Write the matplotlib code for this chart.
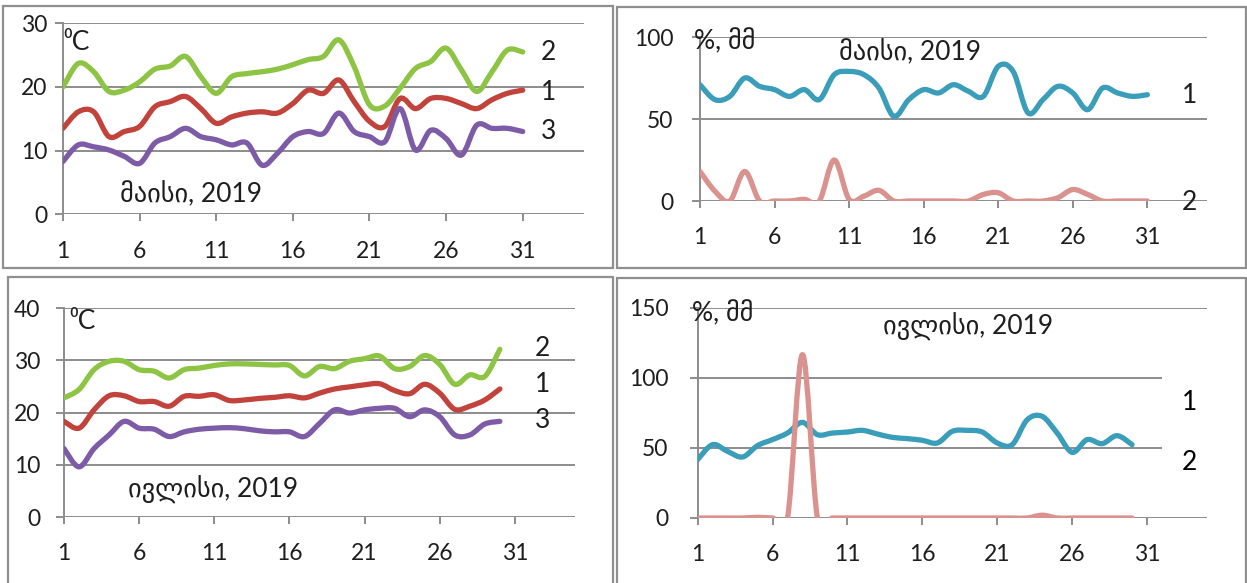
import numpy as np
import matplotlib
matplotlib.use("Agg")
import matplotlib.pyplot as plt
from matplotlib.path import Path
from matplotlib.patches import PathPatch, Rectangle

plt.rcParams["font.family"] = ["Lato", "DejaVu Sans"]

W, H = 1247, 583

# ---- data: May 2019 (air temperature, deg C) ----
may_days = list(range(1, 32))
may_mean = [13.5, 16.1, 16.1, 12.2, 13.0, 13.8, 16.9, 17.7, 18.5, 16.6, 14.3, 15.3, 15.9, 16.1, 15.9,
            17.4, 19.5, 19.0, 21.1, 17.7, 14.6, 13.8, 18.2, 16.6, 18.2, 18.2, 17.4, 16.6, 18.0, 19.0, 19.5]
may_max = [20.0, 23.7, 22.4, 19.3, 19.5, 20.8, 22.8, 23.3, 24.8, 21.6, 19.0, 21.6, 22.1, 22.4, 22.8,
           23.5, 24.3, 24.8, 27.4, 23.2, 17.2, 17.0, 19.8, 22.9, 24.0, 26.1, 22.7, 19.3, 22.4, 25.8, 25.5]
may_min = [8.3, 10.9, 10.6, 10.1, 9.1, 8.0, 11.2, 12.2, 13.5, 12.2, 11.7, 10.9, 11.2, 7.7, 9.6,
           12.2, 13.0, 12.7, 15.9, 13.0, 12.2, 11.4, 16.6, 10.1, 13.2, 11.9, 9.3, 14.0, 13.5, 13.5, 13.0]

# ---- May 2019 humidity (%) and precipitation (mm) ----
may_hum = [70.9, 61.8, 63.8, 75.0, 69.9, 67.9, 63.8, 67.9, 61.8, 77.0, 79.0, 77.0, 68.9, 51.6, 61.8,
           67.9, 65.9, 70.9, 66.9, 63.8, 82.1, 79.0, 53.7, 61.8, 69.9, 65.9, 55.7, 68.9, 65.9, 63.8, 64.8]
may_prec = [18, 6, 0, 18, 0, 0, 0, 1, 0, 25, 1, 3, 6.5, 0, 0,
            0, 0, 0, 0, 4, 5, 0, 0, 0, 2, 7, 4, 0, 0, 0, 0]

# ---- July 2019 (air temperature, deg C) ----
jul_days = list(range(1, 31))
jul_mean = [18.3, 17.0, 20.5, 23.2, 23.2, 22.1, 22.1, 21.2, 23.1, 23.1, 23.4, 22.3, 22.4, 22.7, 22.9,
            23.2, 22.8, 23.7, 24.5, 24.9, 25.3, 25.5, 24.2, 23.6, 25.4, 23.7, 20.6, 21.2, 22.4, 24.5]
jul_max = [22.8, 24.4, 28.2, 29.8, 29.8, 28.2, 27.9, 26.6, 28.2, 28.5, 29.0, 29.3, 29.3, 29.2, 29.1,
           29.0, 27.0, 28.8, 28.4, 29.8, 30.3, 30.8, 28.4, 28.8, 30.9, 29.2, 25.4, 27.2, 26.9, 32.1]
jul_min = [13.1, 9.6, 13.1, 15.7, 18.3, 17.0, 16.8, 15.4, 16.3, 16.8, 17.0, 17.1, 16.9, 16.5, 16.3,
           16.3, 15.4, 17.9, 20.5, 19.9, 20.5, 20.8, 20.8, 19.2, 20.5, 19.2, 15.7, 15.7, 17.8, 18.3]

# ---- July 2019 humidity (%) and precipitation (mm) ----
jul_hum = [41.7, 52.4, 47.6, 43.6, 51.7, 56.0, 60.7, 68.3, 59.5, 60.7, 61.4, 62.6, 60.0, 57.6, 56.7,
           55.5, 53.6, 61.9, 62.6, 61.4, 53.6, 52.4, 70.2, 72.6, 60.7, 46.9, 56.0, 53.1, 58.8, 52.4]
jul_prec = [0, 0, 0, 0, 0.5, 0, 0, 116.7, 0, 0, 0, 0, 0, 0, 0,
            0, 0, 0, 0, 0, 0, 0, 0, 2, 0, 0, 0, 0, 0, 0]

x_ticks = [1, 6, 11, 16, 21, 26, 31]

RED = "#C1433C"
GREEN = "#8DC444"
PURPLE = "#7D5BA6"
TEAL = "#3A9DB9"
PINK = "#D9928E"
GRID = "#8C8C8C"
INK = "#1E1E1E"

fig = plt.figure(figsize=(W / 100, H / 100), dpi=100)


def px_axes(left, right, top, bottom):
    return fig.add_axes([left / W, 1 - bottom / H, (right - left) / W, (bottom - top) / H])


def smooth_line(ax, xs, ys, color):
    # Excel-style smoothed line: Catmull-Rom turned into cubic Bezier segments
    pts = np.column_stack([xs, ys]).astype(float)
    n = len(pts)
    verts = [pts[0]]
    codes = [Path.MOVETO]
    for i in range(n - 1):
        p0 = pts[i - 1] if i > 0 else pts[i]
        p1 = pts[i]
        p2 = pts[i + 1]
        p3 = pts[i + 2] if i + 2 < n else pts[i + 1]
        verts += [p1 + (p2 - p0) / 6, p2 - (p3 - p1) / 6, p2]
        codes += [Path.CURVE4] * 3
    ax.add_patch(PathPatch(Path(verts, codes), fill=False, edgecolor=color, lw=3.8,
                           capstyle="round", joinstyle="round", zorder=3))


def style_axes(ax, ymax, ystep, ypad):
    ax.set_xlim(1, 35)
    ax.set_ylim(0, ymax)
    ax.set_xticks(x_ticks)
    ax.set_yticks(np.arange(0, ymax + 1, ystep))
    for s in ["top", "right", "bottom"]:
        ax.spines[s].set_visible(False)
    ax.spines["left"].set_color(GRID)
    ax.spines["left"].set_linewidth(1.4)
    ax.grid(axis="y", color=GRID, lw=1.4)
    ax.set_axisbelow(True)
    ax.tick_params(axis="y", length=6, width=1.4, color=GRID, pad=ypad, labelsize=16.5,
                   labelcolor=INK)
    ax.tick_params(axis="x", length=5, width=1.4, color=GRID, pad=14, labelsize=16.5,
                   labelcolor=INK)
    ax.patch.set_alpha(0)


def frame(left, top, right, bottom):
    fig.add_artist(Rectangle((left / W, 1 - bottom / H), (right - left) / W, (bottom - top) / H,
                             transform=fig.transFigure, fill=False, edgecolor="#8F8F8F",
                             lw=1.6, zorder=5))


def ftext(x, y, s, size=19, ha="left", color=INK):
    fig.text(x / W, 1 - y / H, s, fontsize=size, ha=ha, va="center", color=color, zorder=6)


# panel frames
frame(3, 6, 613, 268)
frame(617, 7, 1246, 268)
frame(8, 277, 613, 590)
frame(617, 278, 1246, 590)

# top-left: May temperature
ax1 = px_axes(63, 584, 23.3, 214.3)
style_axes(ax1, 30, 10, 5)
smooth_line(ax1, may_days, may_max, GREEN)
smooth_line(ax1, may_days, may_mean, RED)
smooth_line(ax1, may_days, may_min, PURPLE)
ftext(63, 42, "\u2070C")
ftext(120, 194, "მაისი, 2019")
ftext(541, 53, "2")
ftext(541, 93, "1")
ftext(541, 132, "3")

# top-right: May humidity / precipitation
ax2 = px_axes(700, 1207, 37, 201)
style_axes(ax2, 100, 50, 13)
smooth_line(ax2, may_days, may_hum, TEAL)
smooth_line(ax2, may_days, may_prec, PINK)
ftext(694, 42, "%, მმ")
ftext(910, 52, "მაისი, 2019", ha="center")
ftext(1182, 95, "1")
ftext(1182, 202, "2")

# bottom-left: July temperature
ax3 = px_axes(64, 575, 308, 517)
style_axes(ax3, 40, 10, 11)
smooth_line(ax3, jul_days, jul_max, GREEN)
smooth_line(ax3, jul_days, jul_mean, RED)
smooth_line(ax3, jul_days, jul_min, PURPLE)
ftext(69, 321, "\u2070C")
ftext(128, 490, "ივლისი, 2019")
ftext(535, 348, "2")
ftext(535, 385, "1")
ftext(535, 421, "3")

# bottom-right: July humidity / precipitation
ax4 = px_axes(697.6, 1207, 308, 518)
style_axes(ax4, 150, 50, 15)
smooth_line(ax4, jul_days, jul_hum, TEAL)
smooth_line(ax4, jul_days, jul_prec, PINK)
fig.add_artist(Rectangle((1162 / W, 1 - 470 / H), 50 / W, 95 / H, transform=fig.transFigure,
                         facecolor="white", edgecolor="none", zorder=2))
ftext(692, 314, "%, მმ")
ftext(968, 327, "ივლისი, 2019", ha="center")
ftext(1182, 402, "1", color="black")
ftext(1182, 462, "2", color="black")

fig.savefig("out.png", dpi=100, facecolor="white")
